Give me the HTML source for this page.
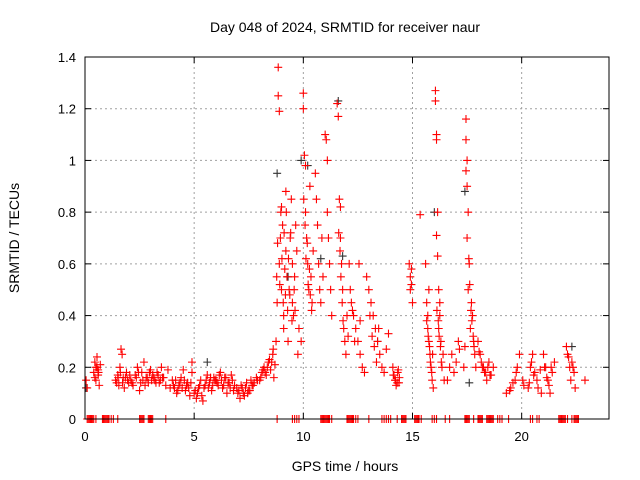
<!DOCTYPE html>
<html><head><meta charset="utf-8"><style>
html,body{margin:0;padding:0;background:#fff;}
svg{display:block;font-family:"Liberation Sans",sans-serif;}
</style></head><body>
<svg id="chart" width="640" height="480">
<rect width="640" height="480" fill="#fff"/>
<text x="345" y="32" text-anchor="middle" font-size="14">Day 048 of 2024, SRMTID for receiver naur</text>
<text x="345" y="471" text-anchor="middle" font-size="14">GPS time / hours</text>
<text transform="translate(19,238) rotate(-90)" text-anchor="middle" font-size="14">SRMTID / TECUs</text>
<g id="grid"></g><g id="marks"></g><g id="axes"></g>
</svg>
<script>
const xTicks=[0,5,10,15,20];
const yTicks=[0,0.2,0.4,0.6,0.8,1,1.2,1.4];
const yTickLabels=["0","0.2","0.4","0.6","0.8","1","1.2","1.4"];
const redTimes=[0.05,0.1,0.4,0.45,0.5,0.5,0.55,0.6,0.6,0.65,0.7,
1.4,1.5,1.55,1.6,1.65,1.7,1.75,1.8,1.9,2.0,2.1,2.2,2.3,2.4,2.5,2.6,2.7,2.8,2.9,3.0,
3.1,3.2,3.3,3.4,3.5,3.6,3.7,3.8,3.9,4.0,4.1,4.2,4.3,4.4,4.5,4.6,4.7,4.8,4.9,4.9,
5.0,5.1,5.2,5.3,5.4,5.5,5.6,5.7,5.8,5.9,6.0,6.1,6.2,6.3,6.4,6.5,6.6,6.7,6.8,
7.0,7.1,7.2,7.3,7.4,7.5,7.6,7.7,8.0,8.1,8.2,8.3,8.4,8.5,8.6,8.65,8.7,
8.75,8.8,8.85,8.85,8.9,8.9,8.95,9.0,9.0,9.05,9.1,9.1,9.2,9.2,9.25,9.3,
9.35,9.4,9.45,9.5,9.5,9.55,9.6,9.65,9.7,9.75,9.8,9.9,
10.0,10.0,10.05,10.1,10.1,10.15,10.2,10.25,10.3,10.35,10.4,10.45,
10.55,10.6,10.65,10.7,10.75,10.8,10.85,10.9,
11.0,11.05,11.1,11.1,11.15,11.2,11.25,11.3,
11.55,11.6,11.65,11.7,11.7,11.75,11.8,11.85,11.9,11.95,12.0,
12.1,12.15,12.2,12.3,12.4,12.5,12.6,12.7,12.8,12.9,12.55,12.6,
13.0,13.1,13.2,13.3,13.4,13.5,13.6,13.7,13.8,13.9,
14.1,14.15,14.2,14.25,14.3,14.35,14.4,
14.85,14.9,14.9,14.95,14.95,15.0,
15.35,15.6,15.65,15.7,15.75,15.8,15.85,15.9,15.95,15.7,15.75,
16.05,16.05,16.1,16.1,16.15,16.1,16.15,16.2,16.25,16.3,16.35,16.2,16.25,16.4,16.45,
16.6,16.7,16.8,16.9,17.0,17.1,17.15,
17.45,17.45,17.5,17.45,17.5,17.55,17.5,17.6,17.55,17.7,17.75,17.8,17.85,17.9,17.65,
18.0,18.1,18.2,18.3,18.4,18.5,18.6,18.7,
19.3,19.5,19.7,19.8,19.9,20.1,
20.3,20.4,20.5,20.6,20.7,20.9,
21.0,21.1,21.2,21.3,21.4,21.5,
22.05,22.1,22.2,22.25,22.3,22.4,22.45,22.9,
0.45,0.55,0.62,1.45,1.52,1.62,1.72,1.85,1.95,2.05,2.15,2.35,2.45,2.55,2.65,2.75,2.85,2.95,3.05,3.15,3.25,3.35,3.45,3.55,
4.05,4.15,4.25,4.35,4.45,4.55,4.65,4.75,4.85,5.05,5.15,5.25,5.35,5.45,5.55,5.65,5.75,5.85,5.95,6.05,6.15,6.25,6.35,6.45,
6.55,6.65,6.75,6.85,6.95,7.05,7.15,7.25,7.35,7.45,7.55,7.65,7.75,7.85,7.9,8.05,8.15,8.25,8.35,8.45,8.55,8.62,
8.78,8.82,8.92,8.97,9.02,9.08,9.12,9.15,9.18,9.22,9.28,9.32,9.38,9.42,9.48,9.58,9.62,
10.02,10.08,10.12,10.18,10.22,10.28,10.32,10.38,11.62,11.68,11.72,11.78,11.82,12.05,12.25,12.35,
13.05,13.15,13.25,13.35,13.45,14.12,14.22,14.32,14.38,15.65,15.72,15.78,15.82,15.88,15.92,16.12,16.18,16.22,16.28,16.32,
17.35,17.4,17.58,17.62,17.68,17.72,17.78,17.82,18.05,18.15,18.25,18.35,18.45,18.55,
19.45,19.6,19.75,20.05,20.35,20.45,20.55,20.75,20.85,21.05,21.15,21.25,21.35,22.15,22.35];
const redValues=[0.15,0.12,0.18,0.22,0.2,0.15,0.24,0.19,0.17,0.13,0.21,
0.15,0.17,0.13,0.2,0.27,0.25,0.16,0.12,0.18,0.14,0.15,0.13,0.17,0.2,0.11,0.18,0.22,0.16,0.14,0.19,
0.17,0.15,0.18,0.14,0.2,0.16,0.13,0.19,0.12,0.15,0.12,0.1,0.13,0.16,0.19,0.11,0.14,0.09,0.18,0.22,
0.1,0.08,0.12,0.15,0.07,0.13,0.17,0.14,0.11,0.16,0.15,0.13,0.18,0.12,0.16,0.1,0.14,0.17,0.11,
0.1,0.08,0.12,0.09,0.14,0.11,0.15,0.13,0.15,0.18,0.2,0.17,0.22,0.19,0.25,0.16,0.21,
0.3,0.45,1.36,1.25,1.19,0.6,0.7,0.82,0.5,0.75,0.4,0.35,0.65,0.88,0.55,0.3,
0.5,0.7,0.85,0.6,0.45,0.4,0.55,0.75,0.65,0.25,0.35,0.3,
1.26,1.2,1.02,0.98,0.8,0.7,0.6,0.5,0.9,0.55,0.45,0.65,
0.95,0.85,0.75,0.6,0.5,0.45,0.7,0.55,
1.1,1.08,1.0,0.8,0.7,0.6,0.5,0.4,
1.22,1.17,0.85,0.82,0.7,0.6,0.5,0.35,0.3,0.25,0.4,
0.6,0.5,0.45,0.4,0.35,0.3,0.25,0.2,0.18,0.55,0.6,0.38,
0.5,0.45,0.4,0.35,0.3,0.25,0.2,0.18,0.27,0.33,
0.2,0.17,0.15,0.13,0.14,0.19,0.16,
0.6,0.55,0.5,0.52,0.58,0.45,
0.79,0.6,0.45,0.35,0.3,0.25,0.2,0.15,0.12,0.4,0.5,
1.27,1.23,1.1,1.08,0.8,0.71,0.63,0.5,0.4,0.3,0.2,0.35,0.45,0.25,0.15,
0.15,0.2,0.25,0.18,0.22,0.3,0.27,
1.16,1.08,1.0,0.96,0.9,0.8,0.7,0.6,0.5,0.45,0.4,0.3,0.25,0.2,0.35,
0.3,0.25,0.2,0.18,0.15,0.22,0.17,0.2,
0.1,0.12,0.15,0.2,0.25,0.13,
0.12,0.2,0.25,0.18,0.15,0.1,
0.25,0.2,0.15,0.1,0.18,0.22,
0.28,0.25,0.2,0.15,0.22,0.18,0.12,0.15,
0.16,0.2,0.18,0.14,0.16,0.18,0.14,0.16,0.15,0.17,0.14,0.16,0.18,0.14,0.15,0.13,0.16,0.18,0.15,0.16,0.14,0.17,0.15,0.16,
0.13,0.15,0.11,0.14,0.12,0.15,0.13,0.12,0.14,0.11,0.1,0.13,0.09,0.12,0.15,0.12,0.16,0.13,0.15,0.14,0.17,0.15,0.13,0.16,
0.14,0.12,0.15,0.13,0.12,0.11,0.13,0.1,0.12,0.1,0.11,0.13,0.14,0.16,0.15,0.16,0.19,0.18,0.2,0.23,0.22,0.27,
0.55,0.68,0.52,0.8,0.62,0.45,0.72,0.58,0.48,0.8,0.42,0.62,0.48,0.72,0.38,0.5,0.42,
0.85,0.75,0.62,0.68,0.52,0.58,0.48,0.42,0.72,0.65,0.55,0.45,0.38,0.32,0.42,0.3,
0.4,0.32,0.28,0.22,0.35,0.17,0.15,0.18,0.14,0.38,0.32,0.28,0.22,0.18,0.25,0.42,0.38,0.32,0.28,0.22,
0.2,0.28,0.62,0.52,0.42,0.38,0.32,0.28,0.26,0.22,0.2,0.18,0.2,0.17,
0.11,0.14,0.18,0.15,0.14,0.22,0.17,0.12,0.19,0.2,0.16,0.13,0.2,0.24,0.2];
const zeroTimes=[0.1,0.2,0.3,0.4,0.5,0.8,0.9,1.0,1.1,1.2,1.3,1.5,2.5,2.6,2.7,2.9,3.0,3.1,3.7,
8.8,9.5,9.6,9.7,9.8,10.8,10.9,11.0,11.1,11.2,11.3,12.0,12.1,12.2,12.3,12.4,12.5,13.0,13.6,13.7,13.8,13.9,14.0,
14.3,14.5,14.6,14.7,15.1,15.2,15.3,15.4,15.9,16.0,16.1,16.5,16.7,17.4,17.5,17.6,17.8,18.0,18.1,18.2,18.4,18.5,18.6,18.7,18.9,19.0,19.1,
19.4,20.4,20.5,20.7,20.8,21.7,21.8,21.9,22.0,22.1,22.3,22.4,22.5,22.6,
0.15,0.25,0.35,0.85,0.95,1.05,2.55,2.65,2.95,3.05,10.85,10.95,11.05,11.15,12.05,12.15,12.25,14.55,14.65,15.15,15.25,17.45,17.55,18.05,18.15,18.45,18.55,18.65,21.75,21.85,21.95,22.45,22.55];
const blackTimes=[0.05,5.6,8.8,9.3,9.9,10.2,10.8,11.6,11.8,13.4,16.0,17.4,17.6,22.3];
const blackValues=[0.12,0.22,0.95,0.55,1.0,0.98,0.62,1.23,0.63,0.3,0.8,0.88,0.14,0.28];

const X0=85,X1=609,Y0=419,Y1=57;
const xs=t=>X0+t/24*(X1-X0);
const ys=v=>Y0-v/1.4*(Y0-Y1);
const NS="http://www.w3.org/2000/svg";
function mk(tag,attrs,parent){const e=document.createElementNS(NS,tag);for(const k in attrs)e.setAttribute(k,attrs[k]);parent.appendChild(e);return e;}
const grid=document.getElementById('grid'),marks=document.getElementById('marks'),axes=document.getElementById('axes');
xTicks.forEach(t=>{
  if(t>0){const g=mk('line',{x1:xs(t),x2:xs(t),y1:Y1,y2:Y0,stroke:'#a0a0a0','stroke-dasharray':'2,3'},grid);
  
  }
  mk('line',{x1:xs(t),x2:xs(t),y1:Y0,y2:Y0-6,stroke:'#000'},axes);
  mk('line',{x1:xs(t),x2:xs(t),y1:Y1,y2:Y1+6,stroke:'#000'},axes);
  const l=mk('text',{x:xs(t),y:Y0+22,'text-anchor':'middle','font-size':'13'},axes);l.textContent=t;
  
  
});
yTicks.forEach((v,i)=>{
  if(v>0&&v<1.4){const g=mk('line',{x1:X0,x2:X1,y1:ys(v),y2:ys(v),stroke:'#a0a0a0','stroke-dasharray':'2,3'},grid);
  
  }
  mk('line',{x1:X0,x2:X0+6,y1:ys(v),y2:ys(v),stroke:'#000'},axes);
  mk('line',{x1:X1,x2:X1-6,y1:ys(v),y2:ys(v),stroke:'#000'},axes);
  const l=mk('text',{x:X0-9,y:ys(v)+5,'text-anchor':'end','font-size':'13'},axes);l.textContent=yTickLabels[i];
  
  
});
const frame=mk('rect',{x:X0,y:Y1,width:X1-X0,height:Y0-Y1,fill:'none',stroke:'#000'},axes);


function plus(x,y,c,name){const p=mk('path',{d:`M${x-4},${y}h8M${x},${y-4}v8`,stroke:c,'stroke-width':'1.1'},marks);
  
  }
blackTimes.forEach((t,i)=>plus(xs(t),ys(blackValues[i]),'#333','black-point'));
redTimes.forEach((t,i)=>plus(xs(t),ys(redValues[i]),'#ff0000','srmtid-point'));
zeroTimes.forEach(t=>plus(xs(t),ys(0),'#ff0000','zero-point'));
</script>
</body></html>
